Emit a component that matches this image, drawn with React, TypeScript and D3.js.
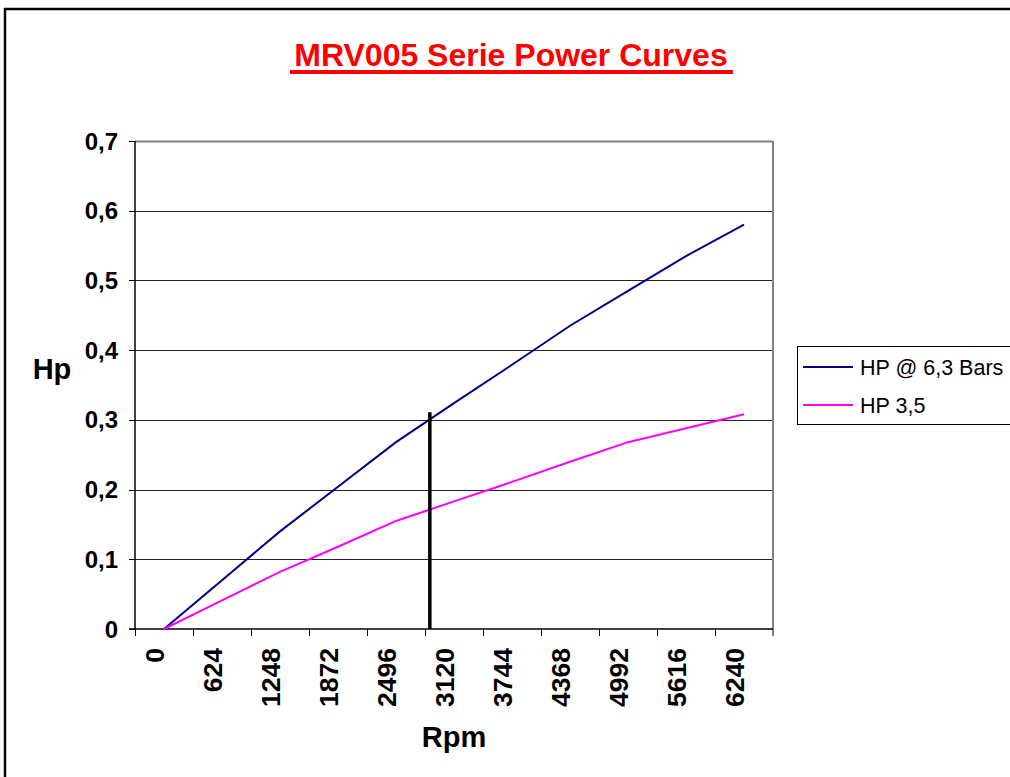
import * as d3 from 'd3'

const categories = ['0', '624', '1248', '1872', '2496', '3120', '3744', '4368', '4992', '5616', '6240']
const hp63Bars = [0, 0.07, 0.14, 0.204, 0.268, 0.324, 0.379, 0.435, 0.485, 0.535, 0.58]
const hp35 = [0, 0.041, 0.082, 0.118, 0.155, 0.183, 0.211, 0.24, 0.268, 0.288, 0.308]
const yTicks = [0, 0.1, 0.2, 0.3, 0.4, 0.5, 0.6, 0.7]
const seriesNames = ['HP @ 6,3 Bars', 'HP 3,5']
const seriesColors = ['#000080', '#FF00FF']
// operating point marker (rpm, hp)
const markerRpm = 2860
const markerHp = 0.311

const font = '"Liberation Sans", Arial, sans-serif'

export default function App() {
  const width = 1010
  const height = 777
  const plot = { left: 135, right: 773, top: 141, bottom: 629 }

  const x = d3.scaleBand<string>().domain(categories).range([plot.left, plot.right])
  const bw = x.bandwidth()
  const cx = (c: string) => (x(c) as number) + bw / 2
  const y = d3.scaleLinear().domain([0, 0.7]).range([plot.bottom, plot.top])
  const rpm = d3.scaleLinear()
    .domain([+categories[0], +categories[categories.length - 1]])
    .range([cx(categories[0]), cx(categories[categories.length - 1])])

  const line = d3.line<number>()
    .x((_, i) => cx(categories[i]))
    .y(d => y(d))

  const fmt = (v: number) => (v === 0 ? '0' : d3.format('.1f')(v).replace('.', ','))
  const tickEdges = categories.map(c => x(c) as number)

  return (
    <svg width={width} height={height} style={{ position: 'absolute', left: 0, top: 0 }} fontFamily={font}>
      <rect x={0} y={0} width={width} height={height} fill="#fff" />
      {/* outer chart border */}
      <rect x={5} y={9} width={width + 20} height={height + 20} fill="none" stroke="#000" strokeWidth={2.5} />

      {/* title */}
      <text x={511} y={66} textAnchor="middle" fontSize={32} fontWeight="bold" fill="#FF0000">
        MRV005 Serie Power Curves
      </text>
      <rect x={290} y={70} width={443} height={4} fill="#FF0000" />

      {/* gridlines */}
      {yTicks.slice(1).map(t => (
        <line key={t} x1={plot.left} x2={plot.right} y1={Math.round(y(t)) + 0.5} y2={Math.round(y(t)) + 0.5}
          stroke={t === 0.7 ? '#808080' : '#222'} strokeWidth={t === 0.7 ? 2 : 1} />
      ))}
      <line x1={plot.right} x2={plot.right} y1={plot.top} y2={plot.bottom + 7} stroke="#808080" strokeWidth={2} />

      {/* axes */}
      <line x1={plot.left} x2={plot.left} y1={plot.top} y2={plot.bottom} stroke="#000" strokeWidth={1.5} />
      <line x1={plot.left - 6} x2={plot.right} y1={plot.bottom} y2={plot.bottom} stroke="#000" strokeWidth={1.5} />
      {yTicks.map(t => (
        <g key={t}>
          <line x1={plot.left - 6} x2={plot.left} y1={Math.round(y(t)) + 0.5} y2={Math.round(y(t)) + 0.5} stroke="#000" />
          <text x={118} y={y(t) + 8.5} textAnchor="end" fontSize={24} fontWeight="bold">{fmt(t)}</text>
        </g>
      ))}
      {tickEdges.map((e, i) => (
        <line key={i} x1={Math.round(e) + 0.5} x2={Math.round(e) + 0.5} y1={plot.bottom} y2={plot.bottom + 7} stroke="#000" />
      ))}
      {categories.map(c => (
        <text key={c} transform={`translate(${cx(c)},648) rotate(-90)`} textAnchor="end" fontSize={26.5} fontWeight="bold">
          {c}
        </text>
      ))}
      <text x={(plot.left + plot.right) / 2} y={747} textAnchor="middle" fontSize={29} fontWeight="bold">Rpm</text>
      <text x={52} y={379} textAnchor="middle" fontSize={29} fontWeight="bold">Hp</text>

      {/* series */}
      {[hp63Bars, hp35].map((s, i) => (
        <path key={i} d={line(s) ?? ''} fill="none" stroke={seriesColors[i]} strokeWidth={2} />
      ))}

      {/* operating point marker */}
      <line x1={rpm(markerRpm)} x2={rpm(markerRpm)} y1={y(0)} y2={y(markerHp)} stroke="#000" strokeWidth={3.5} />

      {/* legend */}
      <rect x={797.5} y={346.5} width={230} height={78} fill="#fff" stroke="#000" strokeWidth={1} />
      {seriesNames.map((n, i) => (
        <g key={n}>
          <line x1={803} x2={853} y1={367 + i * 38} y2={367 + i * 38} stroke={seriesColors[i]} strokeWidth={2} />
          <text x={860} y={375 + i * 38} fontSize={21.5}>{n}</text>
        </g>
      ))}
    </svg>
  )
}
